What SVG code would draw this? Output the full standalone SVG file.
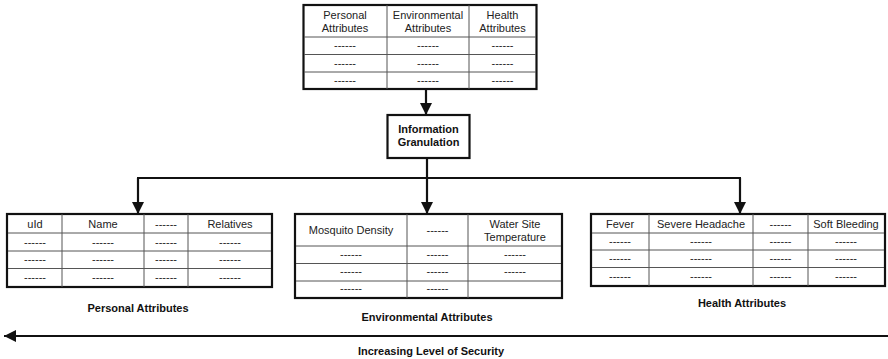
<svg xmlns="http://www.w3.org/2000/svg" width="888" height="359" viewBox="0 0 888 359">
<style>
.outer{fill:#fff;stroke:#111;stroke-width:2.2}
.grid{stroke:#555;stroke-width:1;fill:none}
.t{font-family:"Liberation Sans",Arial,sans-serif;font-size:11px;fill:#222;text-anchor:middle}
.b{font-family:"Liberation Sans",Arial,sans-serif;font-size:11px;font-weight:bold;fill:#111;text-anchor:middle}
.c{stroke:#111;stroke-width:2.2;fill:none}
</style>
<defs>
<marker id="ah" viewBox="0 0 10 10" refX="10" refY="5" markerWidth="5.5" markerHeight="5.5" orient="auto" markerUnits="strokeWidth">
<path d="M0,0 L10,5 L0,10 z" fill="#111"/>
</marker>
</defs>

<g id="connectors">
<line class="c" x1="426" y1="89" x2="426" y2="115" marker-end="url(#ah)"/>
<polyline class="c" points="427,158 427,178"/>
<line class="c" x1="137" y1="178" x2="741" y2="178"/>
<line class="c" x1="138" y1="178" x2="138" y2="214" marker-end="url(#ah)"/>
<line class="c" x1="427" y1="178" x2="427" y2="214" marker-end="url(#ah)"/>
<line class="c" x1="740" y1="178" x2="740" y2="214" marker-end="url(#ah)"/>
<line class="c" x1="888" y1="336" x2="4" y2="336" marker-end="url(#ah)"/>
</g>

<g id="top-table">
<rect class="outer" x="303.5" y="5" width="233" height="84"/>
<path class="grid" d="M387,5V89M469,5V89M304,37H536M304,54.5H536M304,72H536"/>
<text class="t" x="345" y="19">Personal</text><text class="t" x="345" y="32">Attributes</text>
<text class="t" x="428" y="19">Environmental</text><text class="t" x="428" y="32">Attributes</text>
<text class="t" x="502.5" y="19">Health</text><text class="t" x="502.5" y="32">Attributes</text>
<text class="t" x="345" y="49">------</text><text class="t" x="428" y="49">------</text><text class="t" x="502.5" y="49">------</text>
<text class="t" x="345" y="67">------</text><text class="t" x="428" y="67">------</text><text class="t" x="502.5" y="67">------</text>
<text class="t" x="345" y="84">------</text><text class="t" x="428" y="84">------</text><text class="t" x="502.5" y="84">------</text>
</g>

<g id="information-granulation">
<rect class="outer" x="387.5" y="115" width="82" height="43"/>
<text class="b" x="428.5" y="133">Information</text>
<text class="b" x="428.5" y="146">Granulation</text>
</g>

<g id="personal-table">
<rect class="outer" x="7" y="214" width="265" height="73"/>
<path class="grid" d="M62,214V287M144,214V287M188,214V287M8,233H271M8,251H271M8,268.5H271"/>
<text class="t" x="35" y="228">uId</text><text class="t" x="103" y="228">Name</text><text class="t" x="166" y="228">------</text><text class="t" x="230" y="228">Relatives</text>
<text class="t" x="35" y="246">------</text><text class="t" x="103" y="246">------</text><text class="t" x="166" y="246">------</text><text class="t" x="230" y="246">------</text>
<text class="t" x="35" y="263">------</text><text class="t" x="103" y="263">------</text><text class="t" x="166" y="263">------</text><text class="t" x="230" y="263">------</text>
<text class="t" x="35" y="281">------</text><text class="t" x="103" y="281">------</text><text class="t" x="166" y="281">------</text><text class="t" x="230" y="281">------</text>
</g>
<g id="personal-label"><text class="b" x="138" y="312">Personal Attributes</text></g>

<g id="environmental-table">
<rect class="outer" x="295" y="214" width="267" height="84"/>
<path class="grid" d="M407,214V298M468,214V298M296,246H561M296,263.5H561M296,281H561"/>
<text class="t" x="351" y="234">Mosquito Density</text><text class="t" x="437.5" y="234">------</text>
<text class="t" x="515" y="228">Water Site</text><text class="t" x="515" y="241">Temperature</text>
<text class="t" x="351" y="258">------</text><text class="t" x="437.5" y="258">------</text><text class="t" x="515" y="258">------</text>
<text class="t" x="351" y="275">------</text><text class="t" x="437.5" y="275">------</text><text class="t" x="515" y="275">------</text>
<text class="t" x="351" y="292">------</text><text class="t" x="437.5" y="292">------</text>
</g>
<g id="environmental-label"><text class="b" x="427" y="321">Environmental Attributes</text></g>

<g id="health-table">
<rect class="outer" x="591" y="214" width="294" height="72"/>
<path class="grid" d="M649,214V286M753,214V286M808,214V286M592,233H884M592,250H884M592,267.5H884"/>
<text class="t" x="620" y="228">Fever</text><text class="t" x="701" y="228">Severe Headache</text><text class="t" x="780.5" y="228">------</text><text class="t" x="846" y="228">Soft Bleeding</text>
<text class="t" x="620" y="245">------</text><text class="t" x="701" y="245">------</text><text class="t" x="780.5" y="245">------</text><text class="t" x="846" y="245">------</text>
<text class="t" x="620" y="262">------</text><text class="t" x="701" y="262">------</text><text class="t" x="780.5" y="262">------</text><text class="t" x="846" y="262">------</text>
<text class="t" x="620" y="280">------</text><text class="t" x="701" y="280">------</text><text class="t" x="780.5" y="280">------</text><text class="t" x="846" y="280">------</text>
</g>
<g id="health-label"><text class="b" x="742" y="307">Health Attributes</text></g>

<g id="security-label"><text class="b" x="431" y="355">Increasing Level of Security</text></g>
</svg>
